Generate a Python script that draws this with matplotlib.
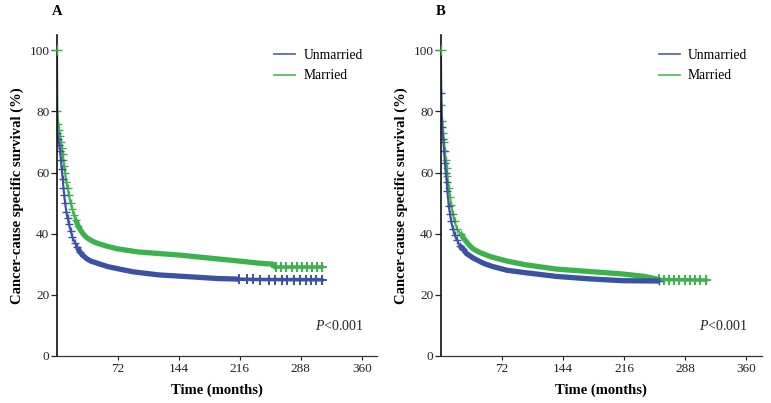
import matplotlib
matplotlib.use("Agg")
import matplotlib.pyplot as plt
import numpy as np

plt.rcParams["font.family"] = ["Liberation Serif", "DejaVu Serif"]
plt.rcParams["mathtext.fontset"] = "custom"
plt.rcParams["mathtext.rm"] = "Liberation Serif"
plt.rcParams["mathtext.it"] = "Liberation Serif:italic"

BLUE = "#3b51a3"
GREEN = "#3cb24b"

# ---------------------------------------------------------------------------
# Data (months, survival %)
# ---------------------------------------------------------------------------
x_ticks = [72, 144, 216, 288, 360]
y_ticks = [0, 20, 40, 60, 80, 100]

# Panel A
a_unmarried_t = [0, 0.3, 1.5, 2.5, 3.5, 4.5, 5.5, 6.5, 7.5, 8.5, 9.5, 11, 12.5, 14, 16, 18,
                 21, 24, 27, 30, 35, 40, 51, 60, 72, 90, 120, 150, 190, 230, 313]
a_unmarried_v = [100, 73, 71, 69, 67, 64, 61, 58, 55, 52.5, 50, 47, 45, 43, 41, 39,
                 37, 35.5, 34, 33, 31.8, 31, 30, 29.2, 28.5, 27.5, 26.5, 26, 25.3, 25, 24.9]
a_married_t = [0, 0.3, 1.5, 2.5, 3.5, 4.5, 5.5, 6.5, 7.5, 8.5, 9.5, 11, 12.5, 14, 16, 18,
               20, 22, 25, 28, 32, 36, 42, 48, 60, 72, 96, 120, 144, 180, 216, 240, 255, 258, 313]
a_married_v = [100, 80, 76, 74, 72, 70, 68, 66, 64, 62, 60, 57, 55, 52.5, 50, 48,
               46, 44.5, 42.5, 41, 39.5, 38.5, 37.5, 36.8, 35.8, 35, 34, 33.5, 33, 32, 31, 30.3, 30, 29, 29]

# Panel B
b_unmarried_t = [0, 0.3, 1.5, 2.5, 3.5, 4.5, 5.5, 6.5, 7.5, 9, 10.5, 12, 14, 16, 19, 22,
                 26, 30, 38, 50, 60, 78, 100, 136, 175, 214, 257]
b_unmarried_v = [100, 86, 75, 71, 67, 63, 60, 57, 54, 49, 46.5, 44, 41.5, 39.5, 38, 36,
                 35, 33.5, 32, 30.3, 29.3, 28, 27.2, 26, 25.2, 24.6, 24.5]
b_married_t = [0, 0.3, 1.5, 2.5, 3.5, 4.5, 5.5, 6.5, 7.5, 9, 10.5, 12, 14, 16, 19, 23,
               28, 34, 38, 46, 58, 78, 100, 136, 175, 214, 240, 257, 312]
b_married_v = [100, 82, 77, 73, 70, 67, 64, 61.5, 59, 55, 52, 49.5, 46.5, 44, 41.5, 40,
               38, 36, 35, 33.8, 32.5, 31, 29.8, 28.4, 27.6, 26.8, 26, 25, 24.8]

# Sparse censoring marks visible in the tails (months)
a_unmarried_tail = [215, 224, 232, 240, 250, 258, 266, 272, 280,
                    287, 294, 300, 306, 313]
a_married_tail = [259, 265, 271, 277, 283, 289, 295, 301, 307, 313]
b_unmarried_tail = []
b_married_tail = [257, 263, 269, 275, 281, 287, 293, 299, 305, 312]

panels = [
    ("A", (a_unmarried_t, a_unmarried_v, a_unmarried_tail),
          (a_married_t, a_married_v, a_married_tail)),
    ("B", (b_unmarried_t, b_unmarried_v, b_unmarried_tail),
          (b_married_t, b_married_v, b_married_tail)),
]
axes_rects = [
    [0.074, 0.117, 0.415, 0.796],
    [0.572, 0.117, 0.416, 0.796],
]


def draw_km(ax, curve, color):
    """Thin curve with censor crosses early, thick dense band, sparse tail."""
    t, v, tail = curve
    t = np.asarray(t, float)
    v = np.asarray(v, float)
    tail_start = tail[0] if tail else t[-1]
    ax.plot(t, v, color=color, lw=1.4)
    early = (t > 0) & (t < 28)
    ax.plot(t[early], v[early], "+", color=color, ms=6, mew=1.0)
    mid = (t >= 22) & (t <= tail_start)
    tm = np.append(t[mid], tail_start)
    vm = np.interp(tm, t, v)
    ax.plot(tm, vm, color=color, lw=3.8, solid_capstyle="butt")
    if tail:
        tt = np.asarray(tail, float)
        ax.plot(tt, np.interp(tt, t, v), color=color, lw=2.6)
        ax.plot(tt, np.interp(tt, t, v), "+", color=color, ms=7, mew=1.4)
    else:
        ax.plot(t[-1], v[-1], "+", color=color, ms=6, mew=1.0)


fig = plt.figure(figsize=(7.71, 4.03), dpi=100, facecolor="white")

for rect, (tag, unmarried, married) in zip(axes_rects, panels):
    ax = fig.add_axes(rect)
    draw_km(ax, married, GREEN)
    draw_km(ax, unmarried, BLUE)
    ax.plot(married[0][0], married[1][0], "+", color=GREEN, ms=7, mew=1.0,
            clip_on=False, zorder=5)

    ax.set_xlim(0, 378)
    ax.set_ylim(0, 105)
    ax.set_xticks(x_ticks)
    ax.set_yticks(y_ticks)
    for side in ("top", "right"):
        ax.spines[side].set_visible(False)
    ax.spines["left"].set_linewidth(1.2)
    ax.spines["bottom"].set_linewidth(0.9)
    ax.spines["left"].set_color("#111111")
    ax.spines["bottom"].set_color("#333333")
    ax.tick_params(axis="y", length=4, width=0.9, labelsize=9.5, pad=1.5, colors="#222222")
    ax.tick_params(axis="x", length=3, width=0.8, labelsize=9.5, pad=2, colors="#222222")

    ax.set_xlabel("Time (months)", fontsize=10.5, fontweight="bold", labelpad=6)
    ax.set_ylabel("Cancer-cause specific survival (%)", fontsize=10.5,
                  fontweight="bold", labelpad=4)

    # legend with thin, lighter handle lines
    ax.plot([], [], color="#5a6bb0", lw=1.3, label="Unmarried")
    ax.plot([], [], color="#55c060", lw=1.3, label="Married")
    ax.legend(loc="upper left", bbox_to_anchor=(0.64, 0.995), frameon=False,
              fontsize=9.8, handlelength=1.55, handletextpad=0.6, labelspacing=0.55)

    ax.text(0.805, 0.093, "$\\mathit{P}$<0.001", transform=ax.transAxes,
            fontsize=10, va="center", ha="left", color="#222222")
    ax.text(0.0, 1.075, tag, transform=ax.transAxes, fontsize=10.5,
            fontweight="bold", ha="center", va="center")

fig.savefig("out.png", dpi=100, facecolor="white")
